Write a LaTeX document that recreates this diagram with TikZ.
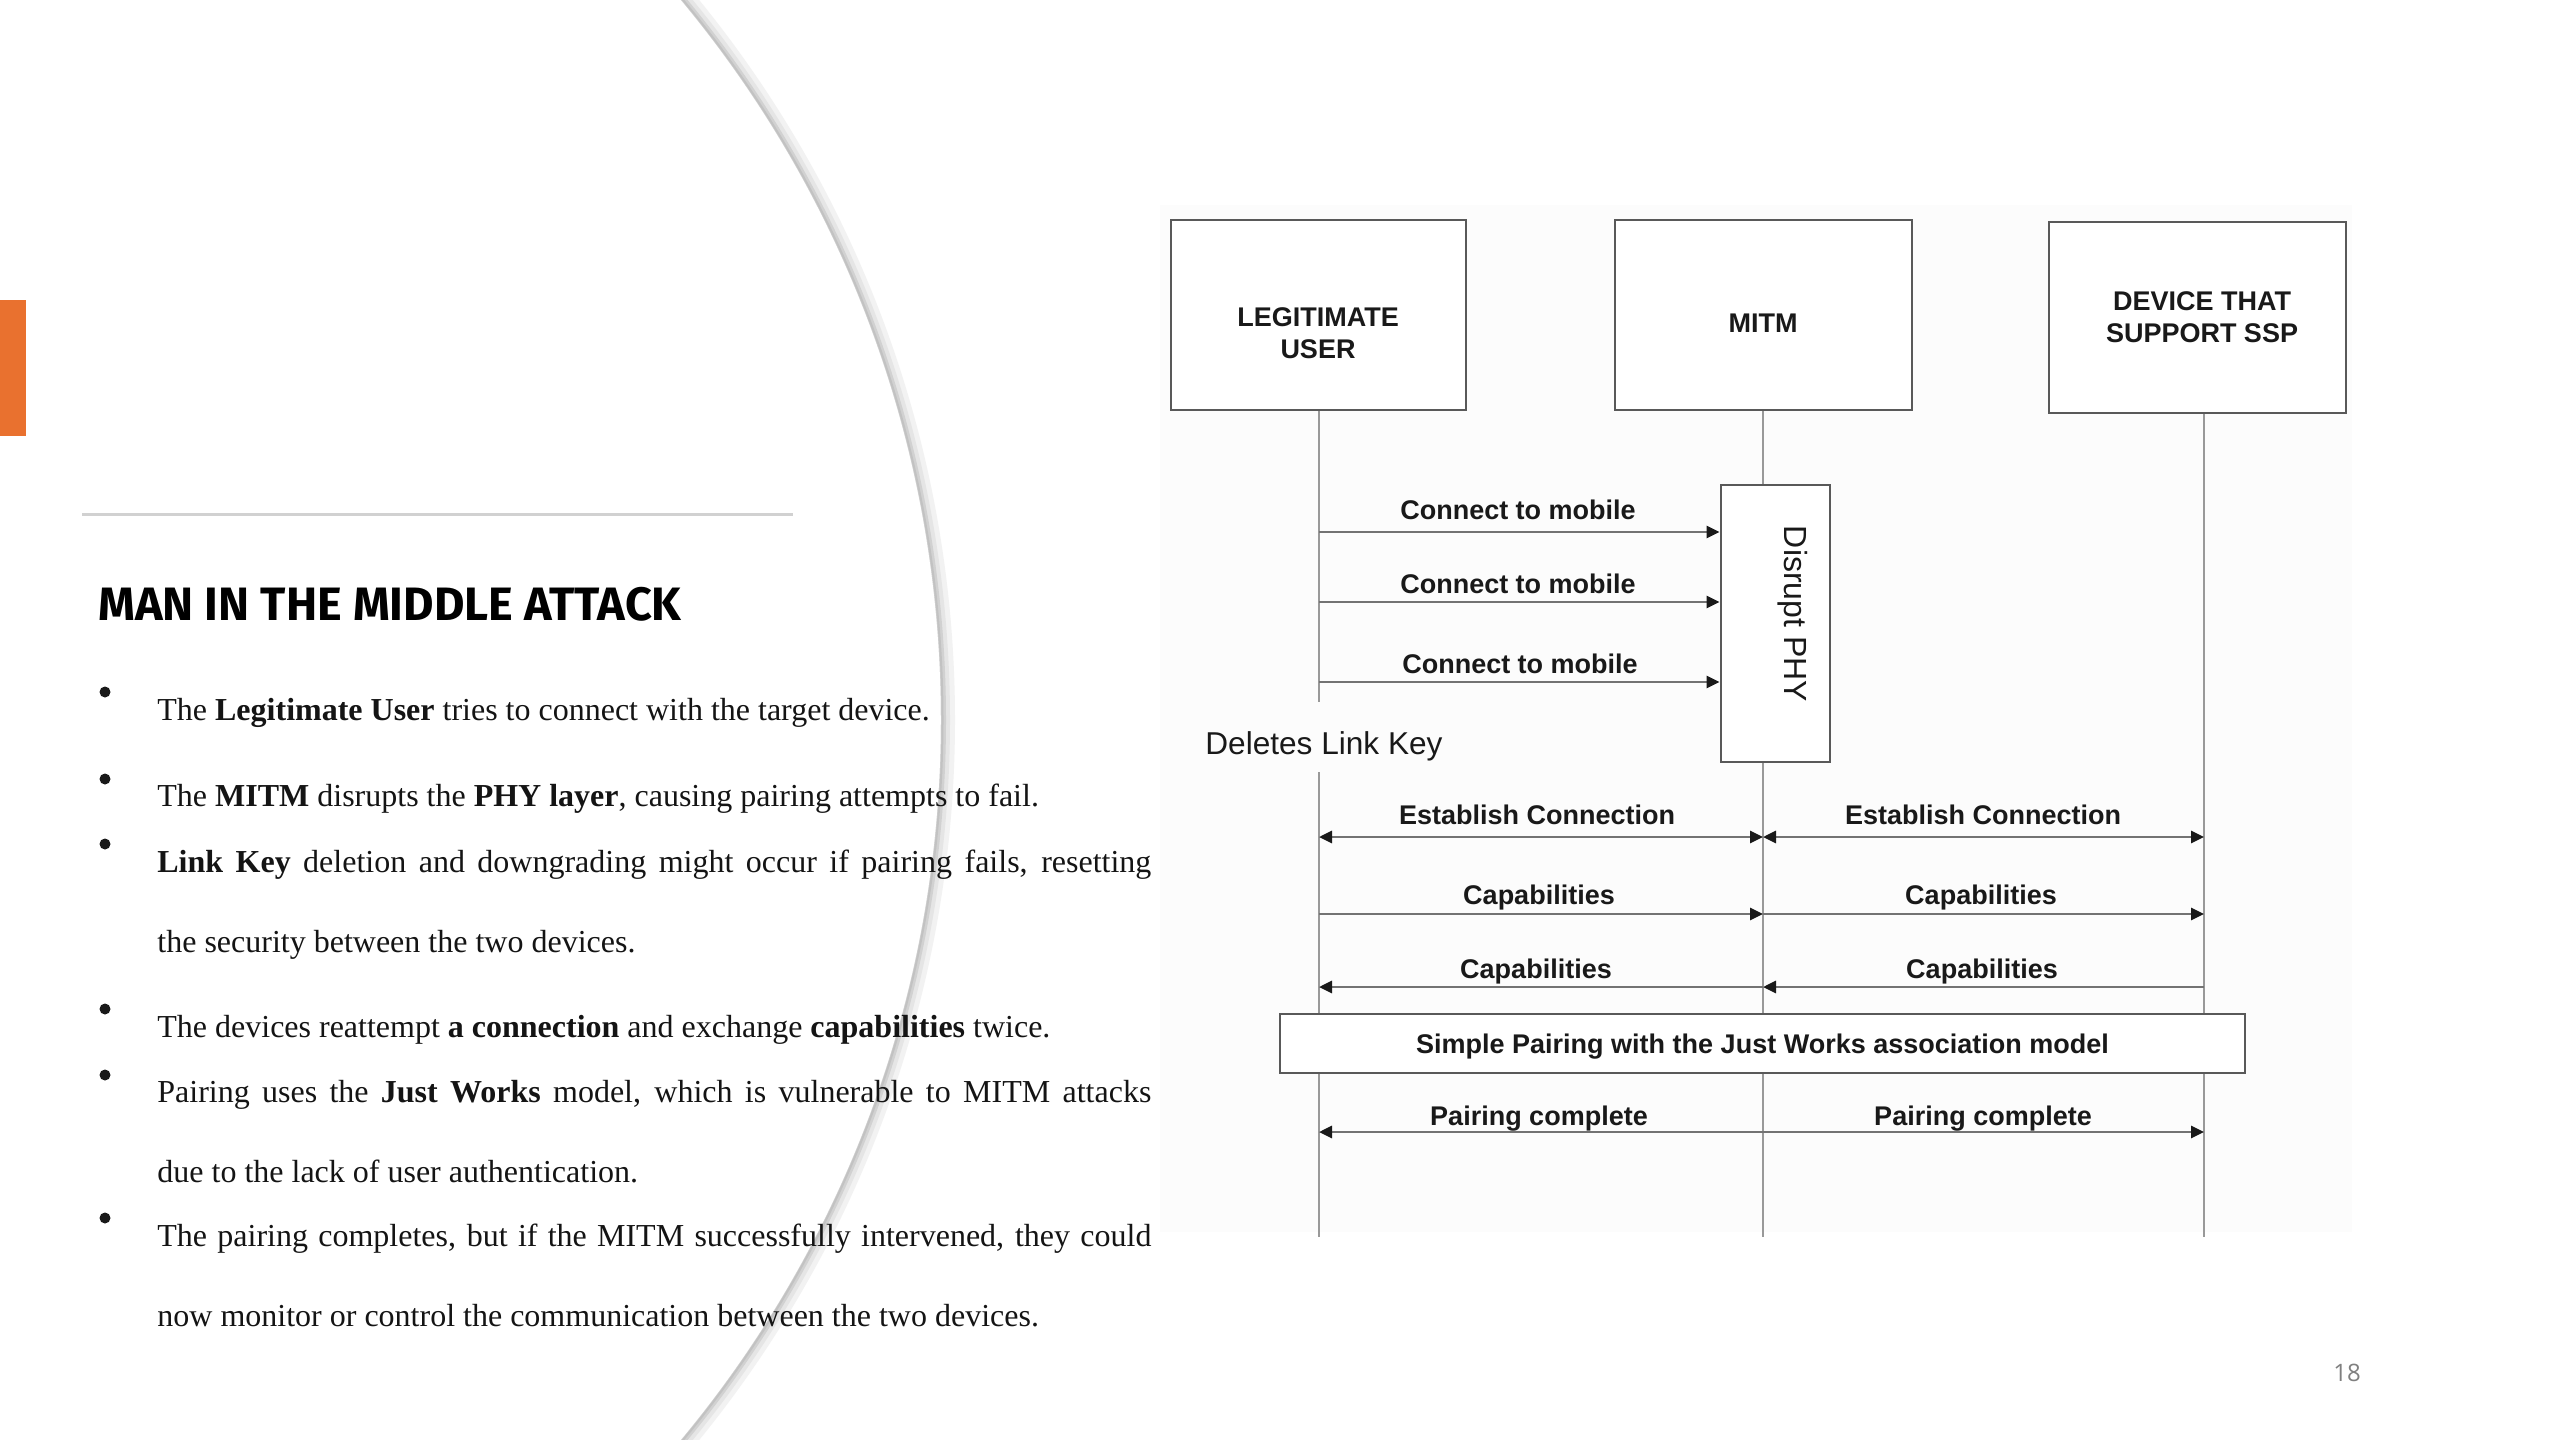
\documentclass[tikz,border=0pt]{standalone}
\usepackage{fontspec}
\setmainfont{Liberation Serif}
\newfontfamily\arialf{Liberation Sans}
\newfontfamily\titlef{Fira Sans}
\newfontfamily\numf{Open Sans}
\usetikzlibrary{arrows.meta}
\definecolor{accent}{HTML}{E9712F}
\begin{document}
\begin{tikzpicture}[x=0.5pt,y=-0.5pt,
  >={Triangle[length=6.5pt,width=6pt,color=black!90]},
  box/.style={draw=black!65, line width=1.4pt, fill=white, inner sep=0pt},
  hdr/.style={font=\arialf\bfseries\fontsize{13.5pt}{16pt}\selectfont, align=center, text=black!90, inner sep=0pt},
  lbl/.style={font=\arialf\bfseries\fontsize{13.5pt}{16pt}\selectfont, anchor=base, inner sep=0pt, text=black!90},
  life/.style={draw=black!40, line width=1pt},
  msg/.style={draw=black!55, line width=1.4pt},
  body/.style={font=\fontsize{16pt}{20pt}\selectfont, anchor=base west, inner sep=0pt, text=black!92},
  bul/.style={circle, fill=black!90, inner sep=0pt, minimum size=5.5pt}]
\useasboundingbox (0,0) rectangle (2560,1440);
\fill[white] (0,0) rectangle (2560,1440);

% diagram background
\fill[black!1.2] (1160,205) rectangle (2352,1232);

% big arc with shadow
\begin{scope}
\clip (0,0) rectangle (2560,1440);
\draw[black!5, line width=7pt] (-186,720) circle[radius=1134];
\draw[black!10, line width=4.5pt] (-186,720) circle[radius=1131.5];
\draw[black!18, line width=2.5pt] (-186,720) circle[radius=1129.5];
\draw[black!24, line width=1pt] (-186,720) circle[radius=1128.5];
\end{scope}

% orange accent bar and rule
\fill[accent] (0,300) rectangle (26,436);
\draw[black!18, line width=1.5pt] (82,514) -- (793,514);

% title
\node[anchor=base west, inner sep=0pt] (title) at (98,620)
  {\resizebox{291.5pt}{!}{\titlef\bfseries MAN IN THE MIDDLE ATTACK}};

% bullets
\node[bul] (b1) at (105,692) {};
\node[bul] (b2) at (105,779) {};
\node[bul] (b3) at (105,844) {};
\node[bul] (b4) at (105,1009) {};
\node[bul] (b5) at (105,1075) {};
\node[bul] (b6) at (105,1218) {};

\node[body] (t1) at (157,720) {The \textbf{Legitimate User} tries to connect with the target device.};
\node[body] (t2) at (157,806) {The \textbf{MITM} disrupts the \textbf{PHY layer}, causing pairing attempts to fail.};
\node[body] (t3a) at (157,872) {\makebox[497pt][s]{\textbf{Link Key} deletion and downgrading might occur if pairing fails, resetting}};
\node[body] (t3b) at (157,952) {the security between the two devices.};
\node[body] (t4) at (157,1037) {The devices reattempt \textbf{a connection} and exchange \textbf{capabilities} twice.};
\node[body] (t5a) at (157,1102) {\makebox[497pt][s]{Pairing uses the \textbf{Just Works} model, which is vulnerable to MITM attacks}};
\node[body] (t5b) at (157,1182) {due to the lack of user authentication.};
\node[body] (t6a) at (157,1246) {\makebox[497pt][s]{The pairing completes, but if the MITM successfully intervened, they could}};
\node[body] (t6b) at (157,1326) {now monitor or control the communication between the two devices.};

% page number
\node[font=\numf\fontsize{12pt}{14pt}\selectfont, text=black!50] (pg) at (2347,1373) {18};

% ---------- sequence diagram ----------
\coordinate (L1) at (1319,0);
\coordinate (L2) at (1763,0);
\coordinate (L3) at (2204,0);
\coordinate (brk) at (0,702);
\coordinate (res) at (0,772);
\coordinate (fin) at (0,1237);
\coordinate (r1) at (0,532);
\coordinate (r2) at (0,602);
\coordinate (r3) at (0,682);
\coordinate (r4) at (0,837);
\coordinate (r5) at (0,914);
\coordinate (r6) at (0,987);
\coordinate (r7) at (0,1132);

\node[box, minimum width=147.5pt, minimum height=95pt] (lu) at (1318.5,315) {};
\node[box, minimum width=148.5pt, minimum height=95pt] (mitm) at (1763.5,315) {};
\node[box, minimum width=148.5pt, minimum height=95.5pt] (dev) at (2197.5,317.5) {};
\node[hdr] (luT) at (1318,333) {LEGITIMATE\\USER};
\node[hdr] (mitmT) at (1763,323) {MITM};
\node[hdr] (devT) at (2202,317) {DEVICE THAT\\SUPPORT SSP};

\node[box, minimum width=54.5pt, minimum height=138.5pt] (dp) at (1775.5,623.5) {};
\node[font=\arialf\fontsize{16pt}{18pt}\selectfont, rotate=-90, inner sep=0pt, text=black!90] (dpT) at (1793,614) {Disrupt PHY};

% lifelines
\draw[life] (L1 |- lu.south) -- (L1 |- brk);
\draw[life] (L1 |- res) -- (L1 |- fin);
\draw[life] (L2 |- mitm.south) -- (L2 |- dp.north);
\draw[life] (L2 |- dp.south) -- (L2 |- fin);
\draw[life] (L3 |- dev.south) -- (L3 |- fin);

\node[font=\arialf\fontsize{15.8pt}{18pt}\selectfont, anchor=base west, inner sep=0pt, text=black!90] (dlk) at (1205,754) {Deletes Link Key};

% connect attempts
\draw[msg,->] (L1 |- r1) -- (dp.west |- r1);
\draw[msg,->] (L1 |- r2) -- (dp.west |- r2);
\draw[msg,->] (L1 |- r3) -- (dp.west |- r3);
\node[lbl] (c1) at (1518,519) {Connect to mobile};
\node[lbl] (c2) at (1518,593) {Connect to mobile};
\node[lbl] (c3) at (1520,673) {Connect to mobile};

% establish connection
\draw[msg,<->] (L1 |- r4) -- (L2 |- r4);
\draw[msg,<->] (L2 |- r4) -- (L3 |- r4);
\node[lbl] (e1) at (1537,824) {Establish Connection};
\node[lbl] (e2) at (1983,824) {Establish Connection};

% capabilities
\draw[msg,->] (L1 |- r5) -- (L2 |- r5);
\draw[msg,->] (L2 |- r5) -- (L3 |- r5);
\node[lbl] (k1) at (1539,904) {Capabilities};
\node[lbl] (k2) at (1981,904) {Capabilities};
\draw[msg,->] (L2 |- r6) -- (L1 |- r6);
\draw[msg,->] (L3 |- r6) -- (L2 |- r6);
\node[lbl] (k3) at (1536,978) {Capabilities};
\node[lbl] (k4) at (1982,978) {Capabilities};

% simple pairing
\node[box, minimum width=482.5pt, minimum height=29.5pt, text depth=0pt, font=\arialf\bfseries\fontsize{13.5pt}{16pt}\selectfont, text=black!90] (sp) at (1762.5,1043.5) {Simple Pairing with the Just Works association model};

% pairing complete
\draw[msg,->] (L2 |- r7) -- (L1 |- r7);
\draw[msg,->] (L2 |- r7) -- (L3 |- r7);
\node[lbl] (p1) at (1539,1125) {Pairing complete};
\node[lbl] (p2) at (1983,1125) {Pairing complete};
\end{tikzpicture}
\end{document}
